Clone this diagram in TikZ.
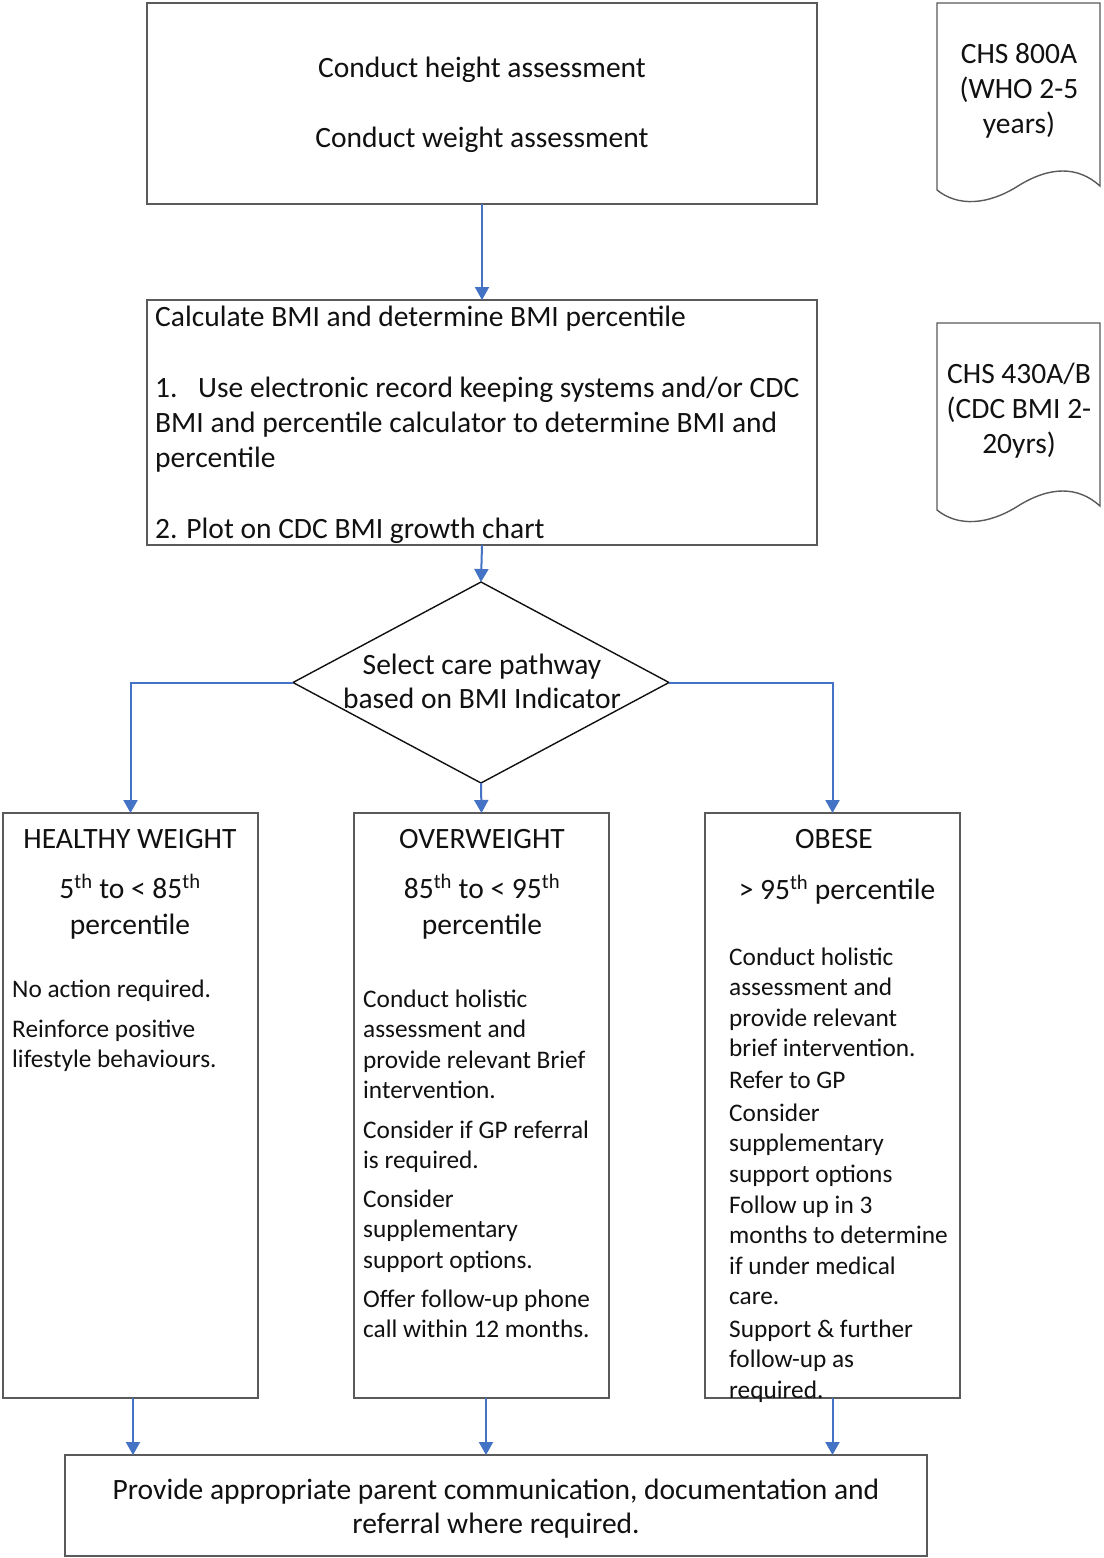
\documentclass[tikz,border=0pt]{standalone}
\usepackage{fontspec}
\setmainfont{Carlito}
\usetikzlibrary{arrows.meta,shapes.geometric}
\definecolor{arrowblue}{HTML}{4472C4}
\definecolor{boxgray}{HTML}{5A5A5A}
\definecolor{txt}{HTML}{111111}
\newcounter{tlc}
\newcommand\tl[4]{\stepcounter{tlc}\node[#1] (t\arabic{tlc}) at (#2,#3) {#4};}
\begin{document}
\begin{tikzpicture}[x=1pt,y=-1pt,
  box/.style={draw=boxgray,line width=1.4pt,inner sep=0pt,outer sep=0pt,fill=white},
  arr/.style={draw=arrowblue,line width=2pt,-{Triangle[width=14pt,length=13pt]}},
  big/.style={font=\fontsize{29.5pt}{35pt}\selectfont,text=txt,inner sep=0pt},
  small/.style={font=\fontsize{25.3pt}{30.5pt}\selectfont,text=txt,inner sep=0pt},
  cb/.style={big,anchor=base},
  lb/.style={big,anchor=base west},
  sl/.style={small,anchor=base west,align=left}
]
\useasboundingbox (0,0) rectangle (1103,1558);
\fill[white] (0,0) rectangle (1103,1558);

% top box
\node[box,minimum width=670pt,minimum height=201pt] (top) at (482,103.5) {};
\tl{cb}{482}{77}{Conduct height assessment}
\tl{cb}{482}{147}{Conduct weight assessment}

% documents
\draw[box] (937,3) -- (1100,3) -- (1100,186)
  .. controls (1078,166) and (1050,166) .. (1018,186)
  .. controls (988,205) and (958,207) .. (937,190) -- cycle;
\coordinate (doc1) at (1019,90);
\tl{cb}{1019}{63}{CHS 800A}
\tl{cb}{1019}{98}{(WHO 2-5}
\tl{cb}{1019}{133}{years)}

\draw[box] (937,323) -- (1100,323) -- (1100,506)
  .. controls (1078,486) and (1050,486) .. (1018,506)
  .. controls (988,525) and (958,527) .. (937,510) -- cycle;
\coordinate (doc2) at (1019,410);
\tl{cb}{1019}{383}{CHS 430A/B}
\tl{cb}{1019}{418}{(CDC BMI 2-}
\tl{cb}{1019}{453}{20yrs)}

% box 2
\node[box,minimum width=670pt,minimum height=245pt] (calc) at (482,422.5) {};
\tl{lb}{155}{326}{Calculate BMI and determine BMI percentile}
\tl{lb}{155}{397}{1.}
\tl{lb}{198}{397}{Use electronic record keeping systems and/or CDC}
\tl{lb}{155}{432}{BMI and percentile calculator to determine BMI and}
\tl{lb}{155}{467}{percentile}
\tl{lb}{155}{538}{2. Plot on CDC BMI growth chart}

% diamond
\node[draw=txt,line width=1.4pt,diamond,minimum width=376pt,minimum height=201pt,inner sep=0pt,outer sep=0pt] (dia) at (481,682.5) {};
\tl{cb}{482}{674}{Select care pathway}
\tl{cb}{482}{708}{based on BMI Indicator}

% three boxes
\node[box,minimum width=255pt,minimum height=585pt] (hw) at (130.5,1105.5) {};
\node[box,minimum width=255pt,minimum height=585pt] (ow) at (481.5,1105.5) {};
\node[box,minimum width=255pt,minimum height=585pt] (ob) at (832.5,1105.5) {};

% healthy
\tl{cb}{130}{848}{HEALTHY WEIGHT}
\tl{cb}{130}{898}{5\textsuperscript{th} to < 85\textsuperscript{th}}
\tl{cb}{130}{934}{percentile}
\tl{sl}{12}{997}{No action required.}
\tl{sl}{12}{1067.5}{Reinforce positive\\lifestyle behaviours.}

% overweight
\tl{cb}{482}{848}{OVERWEIGHT}
\tl{cb}{482}{898}{85\textsuperscript{th} to < 95\textsuperscript{th}}
\tl{cb}{482}{934}{percentile}
\tl{sl}{363}{1098.5}{Conduct holistic\\assessment and\\provide relevant Brief\\intervention.}
\tl{sl}{363}{1168.5}{Consider if GP referral\\is required.}
\tl{sl}{363}{1268}{Consider\\supplementary\\support options.}
\tl{sl}{363}{1337.5}{Offer follow-up phone\\call within 12 months.}

% obese
\tl{cb}{834}{848}{OBESE}
\tl{cb}{837}{899}{> 95\textsuperscript{th} percentile}
\tl{sl}{729}{1056.5}{Conduct holistic\\assessment and\\provide relevant\\brief intervention.}
\tl{sl}{729}{1088}{Refer to GP}
\tl{sl}{729}{1182}{Consider\\supplementary\\support options}
\tl{sl}{729}{1304.5}{Follow up in 3\\months to determine\\if under medical\\care.}
\tl{sl}{729}{1398}{Support \& further\\follow-up as\\required.}

% bottom box
\node[box,minimum width=862pt,minimum height=101pt] (bot) at (496,1505.5) {};
\tl{cb}{496}{1499}{Provide appropriate parent communication, documentation and}
\tl{cb}{496}{1533}{referral where required.}

% connectors
\draw[arr] (top.south) -- (calc.north);
\draw[arr] (calc.south) -- (dia.north);
\draw[arr] (dia.west) -| (hw.north);
\draw[arr] (dia.south) -- (ow.north);
\draw[arr] (dia.east) -| (ob.north);
\draw[arr] ([xshift=2.5pt]hw.south) -- ([xshift=2.5pt]hw.south |- bot.north);
\draw[arr] ([xshift=4.5pt]ow.south) -- ([xshift=4.5pt]ow.south |- bot.north);
\draw[arr] (ob.south) -- (ob.south |- bot.north);
\end{tikzpicture}
\end{document}
